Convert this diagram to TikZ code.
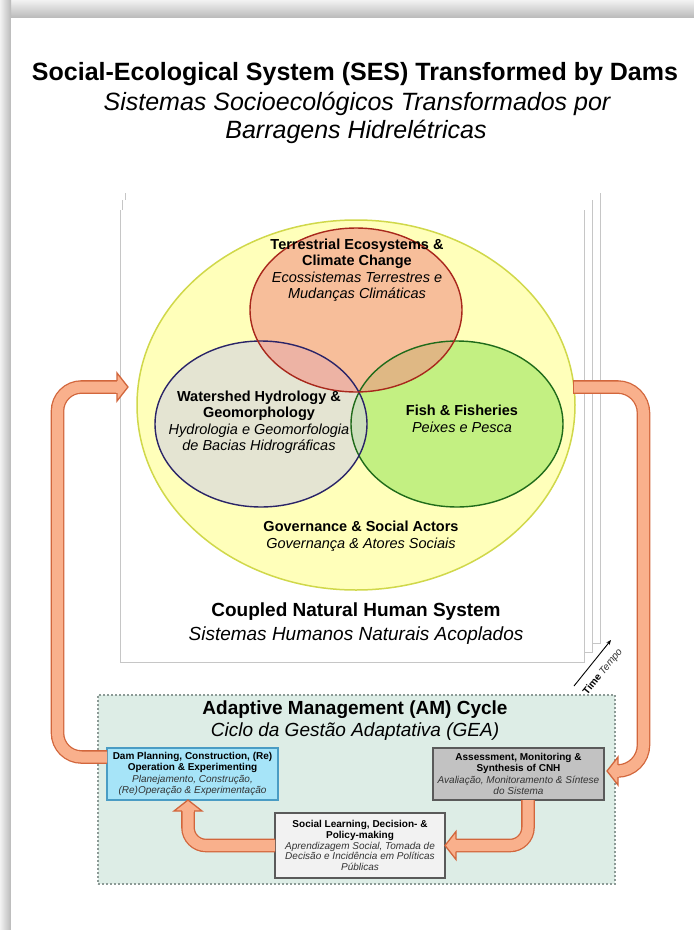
\documentclass[tikz,border=0pt]{standalone}
\usepackage{fontspec}
\setmainfont{Liberation Sans}
\usetikzlibrary{arrows.meta,shapes.geometric,calc}
\definecolor{arrF}{HTML}{F9B08C}
\definecolor{arrB}{HTML}{D2663C}
\definecolor{sesF}{HTML}{FFFFBA}
\definecolor{sesB}{HTML}{D0D84A}
\definecolor{terF}{HTML}{F39386}
\definecolor{terB}{HTML}{A8281C}
\definecolor{watF}{HTML}{D2D2E2}
\definecolor{watB}{HTML}{2A2468}
\definecolor{fisF}{HTML}{C3F082}
\definecolor{fisB}{HTML}{1F6B1A}
\definecolor{amF}{HTML}{DDEDE6}
\definecolor{amB}{HTML}{8C9A96}
\definecolor{damF}{HTML}{A6E4F8}
\definecolor{damB}{HTML}{4A9CC4}
\definecolor{asF}{HTML}{C2C2C2}
\definecolor{boxB}{HTML}{5A5A5A}
\definecolor{soF}{HTML}{F2F2F2}
\definecolor{itG}{HTML}{333333}
\begin{document}
\begin{tikzpicture}[x=1pt,y=-1pt,
  every node/.style={inner sep=0pt,outer sep=0pt},
  ell/.style={ellipse,inner sep=0pt},
  elltext/.style={align=center,font=\fontsize{14.5}{16.5}\selectfont},
  bigtext/.style={align=center,font=\fontsize{19}{24}\selectfont},
  smallbox/.style={rectangle,draw=boxB,line width=1.1pt,align=center,minimum width=171pt,minimum height=52pt,font=\fontsize{10}{11.5}\selectfont},
  shaft/.style={draw=arrB,line width=1.3pt,double=arrF,double distance=11pt},
  bhead/.pic={\fill[arrF] (0,-14) -- (11,0) -- (0,14) -- cycle;
              \fill[arrF] (-0.6,-5.5) rectangle (0.3,5.5);
              \draw[arrB,line width=1.3pt,line join=miter] (0,-6.2) -- (0,-14) -- (11,0) -- (0,14) -- (0,6.2);},
  pageline/.style={draw=gray!45,line width=0.8pt}
]
% background frame
\useasboundingbox (0,0) rectangle (694,930);
\shade[top color=gray!10,bottom color=gray!55] (0,0) rectangle (694,18);
\shade[left color=gray!10,right color=gray!55] (0,0) rectangle (11,930);
\fill[white] (11,18) rectangle (694,930);

% titles
\node[anchor=base,font=\bfseries\fontsize{25}{29}\selectfont] (t1) at (355,80) {Social-Ecological System (SES) Transformed by Dams};
\node[anchor=base,font=\itshape\fontsize{25}{29}\selectfont] (t2) at (357,110) {Sistemas Socioecológicos Transformados por};
\node[anchor=base,font=\itshape\fontsize{25}{29}\selectfont] (t3) at (356,138) {Barragens Hidrelétricas};

% stacked pages
\fill[white] (125,193) rectangle (600,643);
\draw[pageline] (125,193) -- (125,643) -- (600,643) -- (600,193);
\fill[white] (122.5,200) rectangle (592.5,652);
\draw[pageline] (122.5,200) -- (122.5,652) -- (592.5,652) -- (592.5,200);
\node[fill=white,minimum width=464pt,minimum height=452pt] (cnh) at (352,436) {};
\draw[pageline] (cnh.north west) -- (cnh.south west) -- (cnh.south east) -- (cnh.north east);

% ellipses
\node[ell,fill=sesF,draw=sesB,line width=1.5pt,minimum width=438pt,minimum height=370pt] (ses) at (356,405) {};
\node[ell,fill=fisF,minimum width=212pt,minimum height=166pt] (fish) at (457,424) {};
\node[ell,fill=watF,fill opacity=0.6,minimum width=212pt,minimum height=166pt] (water) at (261,424) {};
\node[ell,fill=terF,fill opacity=0.6,minimum width=212pt,minimum height=164pt] (terr) at (356,310) {};
\draw[fisB,line width=1.4pt] (fish.center) ellipse [x radius=106,y radius=83];
\draw[watB,line width=1.4pt] (water.center) ellipse [x radius=106,y radius=83];
\draw[terB,line width=1.4pt] (terr.center) ellipse [x radius=106,y radius=82];

\node[elltext] (terrtxt) at (357,270) {\textbf{Terrestrial Ecosystems \&}\\\textbf{Climate Change}\\\textit{Ecossistemas Terrestres e}\\\textit{Mudanças Climáticas}};
\node[elltext] (watertxt) at (259,422) {\textbf{Watershed Hydrology \&}\\\textbf{Geomorphology}\\\textit{Hydrologia e Geomorfologia}\\\textit{de Bacias Hidrográficas}};
\node[elltext] (fishtxt) at (462,419) {\textbf{Fish \& Fisheries}\\\textit{Peixes e Pesca}};
\node[elltext] (govtxt) at (361,536) {\textbf{Governance \& Social Actors}\\\textit{Governança \& Atores Sociais}};
\node[bigtext] (cnhtxt) at (356,624) {\textbf{Coupled Natural Human System}\\\textit{Sistemas Humanos Naturais Acoplados}};

% time arrow
\coordinate (tA) at (574,686);
\coordinate (tB) at (611,640);
\draw[-{Stealth[length=5pt,width=4pt]},line width=0.9pt] (tA) -- (tB);
\node[rotate=51,font=\fontsize{10}{12}\selectfont] (timetxt) at (603,672) {\textbf{Time} \textit{\color{itG}Tempo}};

% adaptive management box
\node[draw=amB,fill=amF,dash pattern=on 2pt off 2pt,line width=1.1pt,minimum width=517pt,minimum height=189pt] (am) at (356.5,789.5) {};
\node[align=center,font=\fontsize{19}{21.5}\selectfont] (amtxt) at (355,720.5) {\textbf{Adaptive Management (AM) Cycle}\\\textit{Ciclo da Gestão Adaptativa (GEA)}};

\node[smallbox,fill=damF,draw=damB] (dam) at (192.5,774) {\textbf{Dam Planning, Construction, (Re)}\\\textbf{Operation \& Experimenting}\\\textit{\color{itG}Planejamento, Construção,}\\\textit{\color{itG}(Re)Operação \& Experimentação}};
\node[smallbox,fill=asF] (assess) at (518.5,774) {\textbf{Assessment, Monitoring \&}\\\textbf{Synthesis of CNH}\\\textit{\color{itG}Avaliação, Monitoramento \& Síntese}\\\textit{\color{itG}do Sistema}};
\node[smallbox,fill=soF,minimum width=170pt,minimum height=65pt,font=\fontsize{10}{10.8}\selectfont] (social) at (360,845.5) {\textbf{Social Learning, Decision- \&}\\\textbf{Policy-making}\\\textit{\color{itG}Aprendizagem Social, Tomada de}\\\textit{\color{itG}Decisão e Incidência em Políticas}\\\textit{\color{itG}Públicas}};

% big cycle arrows
\coordinate (sesL) at (117,387);
\coordinate (sesR) at (573,387);
\draw[shaft,rounded corners=24pt] ([yshift=17pt]dam.west) -- (57.5,757) -- (57.5,387) -- (sesL);
\pic at (sesL) {bhead};
\coordinate (asR) at (618,771);
\draw[shaft,rounded corners=26pt] (sesR) -- (643.5,387) -- (643.5,771) -- (asR);
\draw[arrB,line width=1.3pt] (573.6,380.2) -- (573.6,393.8);
\pic[rotate=180] at (asR) {bhead};

% small cycle arrows
\coordinate (soR) at (456,845.5);
\draw[shaft,rounded corners=18pt] ([xshift=9.5pt]assess.south) -- (528,845.5) -- (soR);
\pic[rotate=180] at (soR) {bhead};
\coordinate (damS) at (188,811);
\draw[shaft,rounded corners=18pt] (social.west) -- (188,845.5) -- (damS);
\pic[rotate=90] at (damS) {bhead};
\end{tikzpicture}
\end{document}
